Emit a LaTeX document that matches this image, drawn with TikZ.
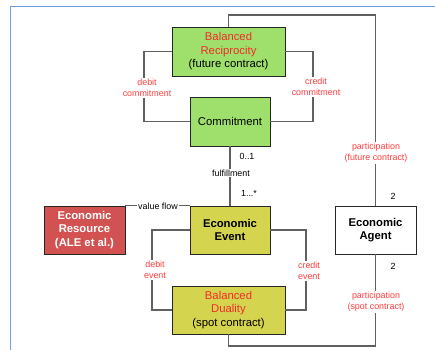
\documentclass[tikz,border=0pt]{standalone}
\usepackage{fontspec}
\setmainfont{Liberation Sans}
\definecolor{frameblue}{HTML}{6F9FE0}
\definecolor{boxgreen}{HTML}{9EE06B}
\definecolor{boxyellow}{HTML}{D4D44E}
\definecolor{boxred}{HTML}{D25252}
\definecolor{titlered}{HTML}{F22A2A}
\definecolor{labelred}{HTML}{FF3D3D}
\definecolor{linegray}{HTML}{606060}
\begin{document}
\begin{tikzpicture}[x=1pt,y=-1pt,
  box/.style={draw=black!85,line width=0.9pt,rectangle,align=center,inner sep=0pt,
    font=\fontsize{11.3}{13.5}\selectfont},
  conn/.style={draw=linegray,line width=1.1pt},
  lbl/.style={text=labelred,align=center,inner sep=1pt,fill=white,font=\fontsize{8.9}{11}\selectfont},
  mult/.style={text=black,inner sep=0pt,font=\fontsize{8.9}{11}\selectfont}]
\useasboundingbox (0,0) rectangle (435,349);
\fill[white] (0,0) rectangle (435,349);
\draw[frameblue,line width=1pt] (10,6) rectangle (445,360);

% boxes
\node[box,fill=boxgreen,minimum width=113,minimum height=49] (BR) at (228.5,51.5)
  {\textcolor{titlered}{Balanced}\\\textcolor{titlered}{Reciprocity}\\(future contract)};
\node[box,fill=boxgreen,minimum width=80,minimum height=49] (Com) at (230,121.5) {Commitment};
\node[box,fill=boxyellow,minimum width=80,minimum height=48,font=\fontsize{11.3}{13.5}\selectfont\bfseries] (Ev) at (230,230) {Economic\\Event};
\node[box,fill=boxred,text=white,minimum width=81,minimum height=48,font=\fontsize{11.3}{13.5}\selectfont\bfseries] (Res) at (84.5,230) {Economic\\Resource\\(ALE et al.)};
\node[box,fill=white,minimum width=81,minimum height=48,font=\fontsize{11.3}{13.5}\selectfont\bfseries] (Ag) at (375.5,230) {Economic\\Agent};
\node[box,fill=boxyellow,minimum width=113,minimum height=48] (BD) at (228.5,310)
  {\textcolor{titlered}{Balanced}\\\textcolor{titlered}{Duality}\\(spot contract)};

% helper coordinates
\coordinate (top) at (300,15);
\coordinate (bot) at (300,346);
\coordinate (dl) at (144,0);
\coordinate (dr) at (313,0);
\coordinate (el) at (152,0);
\coordinate (er) at (306,0);

% connectors
\begin{scope}[on background layer/.style={}]
\draw[conn] (BR.north) |- (top) -| (Ag.north);
\draw[conn] (BD.south) |- (bot) -| (Ag.south);
\draw[conn] (BR.west) -- (BR.west -| dl) |- (Com.west);
\draw[conn] (BR.east) -- (BR.east -| dr) |- (Com.east);
\draw[conn] (Ev.west) -- (Ev.west -| el) |- (BD.west);
\draw[conn] (Ev.east) -- (Ev.east -| er) |- (BD.east);
\draw[conn] (Com.south) -- (Ev.north);
\draw[conn] (Res.north east) -- (Ev.north west);
\end{scope}

% labels
\node[lbl] (l1) at (147,88) {debit\\commitment};
\node[lbl] (l2) at (316,87) {credit\\commitment};
\node[lbl,text=black] (l3) at (231,173) {fulfillment};
\node[mult] (m1) at (247,156) {0..1};
\node[mult] (m2) at (249,193) {1...*};
\node[lbl,text=black,inner ysep=0pt] (l4) at (158,206) {value flow};
\node[lbl] (l5) at (155,270) {debit\\event};
\node[lbl] (l6) at (309,271) {credit\\event};
\node[lbl] (l7) at (376,153) {participation\\(future contract)};
\node[mult] (m3) at (393,196) {2};
\node[mult] (m4) at (393,266) {2};
\node[lbl] (l8) at (376,302) {participation\\(spot contract)};
\end{tikzpicture}
\end{document}
